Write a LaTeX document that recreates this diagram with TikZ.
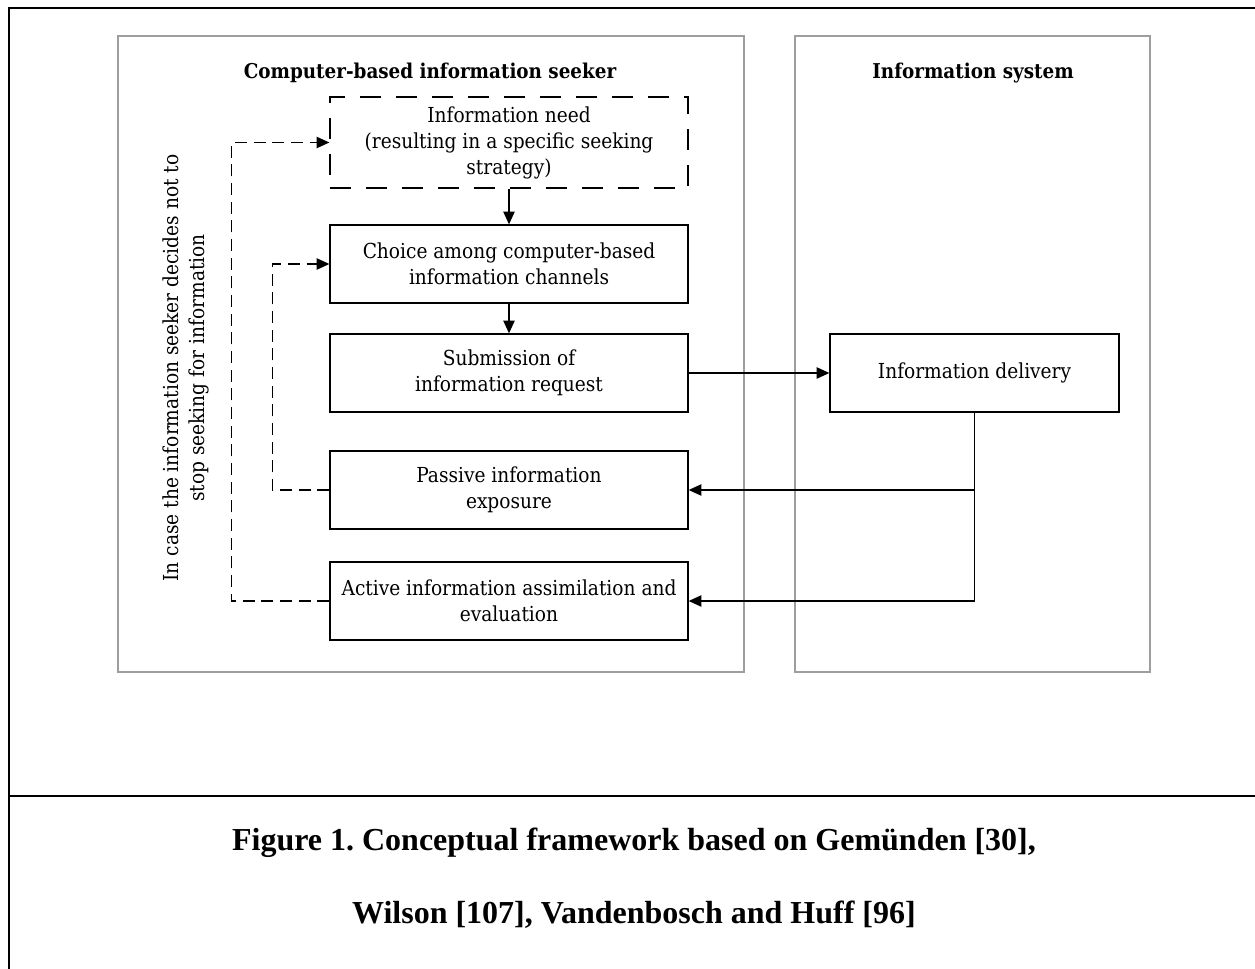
\documentclass[tikz,border=0pt]{standalone}
\usepackage{fontspec}
\setmainfont{DejaVu Serif Condensed}
\newfontfamily\capfont{Liberation Serif}
\usetikzlibrary{arrows.meta}
\frenchspacing
\begin{document}
\begin{tikzpicture}[x=0.75pt,y=-0.75pt,
  boxtext/.style={font=\fontsize{15.5}{19.5}\selectfont},
  stepbox/.style={draw=black,line width=1pt,inner sep=0pt,align=center,
    minimum width=358*0.75pt,minimum height=78*0.75pt,boxtext},
  panel/.style={draw=black!38,line width=0.9pt},
  arr/.style={line width=0.9pt,-{Triangle[length=9.5pt,width=8.5pt]}},
  darr/.style={arr,dash pattern=on 9pt off 5pt},
  title/.style={font=\bfseries\fontsize{15.3}{18}\selectfont},
  captext/.style={font=\capfont\bfseries\fontsize{24}{28}\selectfont}]
\useasboundingbox (0,0) rectangle (1255,969);
% outer frame
\draw[line width=1.6pt] (9,1000) -- (9,8) -- (1300,8);
\draw[line width=1.6pt] (9,796) -- (1300,796);
% panels
\draw[panel] (118,36) rectangle (744,672);
\draw[panel] (795,36) rectangle (1150,672);
\node[title] (t1) at (430,73) {Computer-based information seeker};
\node[title] (t2) at (973,73) {Information system};
% boxes
\node[stepbox,minimum height=91*0.75pt,dash pattern=on 16pt off 11pt] (need) at (509,142.5)
  {Information need\\(resulting in a specific seeking\\strategy)};
\node[stepbox] (choice) at (509,264) {Choice among computer-based\\information channels};
\node[stepbox] (sub) at (509,373) {Submission of\\information request};
\node[stepbox] (pass) at (509,490) {Passive information\\exposure};
\node[stepbox] (act) at (509,601) {Active information assimilation and\\evaluation};
\node[stepbox,minimum width=289*0.75pt] (deliv) at (974.5,373) {Information delivery};
% connectors
\draw[arr] (need) -- (choice);
\draw[arr] (choice) -- (sub);
\draw[arr] (sub) -- (deliv);
\draw[arr] (deliv.south) |- (act.east);
\draw[arr] (deliv.south |- pass.east) -- (pass.east);
\draw[darr] (pass.west) -- ++(-57,0) |- (choice.west);
\draw[darr] (act.west) -- ++(-98,0) |- (need.west);
% rotated note
\node[boxtext,rotate=90,align=center] (note) at (186,368)
  {In case the information seeker decides not to\\stop seeking for information};
% caption
\node[captext] (c1) at (634,843) {Figure 1. Conceptual framework based on Gemünden [30],};
\node[captext] (c2) at (634,915) {Wilson [107], Vandenbosch and Huff [96]};
\end{tikzpicture}
\end{document}
